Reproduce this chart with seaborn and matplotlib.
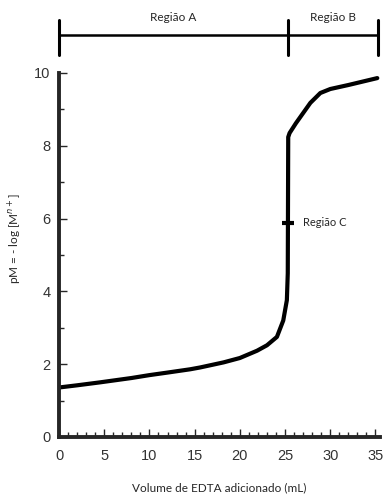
import matplotlib
matplotlib.use("Agg")
import matplotlib.pyplot as plt
import matplotlib.transforms as mtransforms
import seaborn as sns
import pandas as pd
import numpy as np

# Data
vol = [0, 2, 4.5, 8, 10, 12, 14.5, 15.6, 18.2, 20, 21.9, 23, 24.1, 24.8, 25.2, 25.3, 25.35, 25.5, 26.2, 27.0, 27.8, 28.9, 30.0, 32.0, 35.2]
pM = [1.36, 1.42, 1.50, 1.62, 1.70, 1.77, 1.86, 1.91, 2.05, 2.17, 2.37, 2.52, 2.75, 3.2, 3.76, 4.5, 8.24, 8.35, 8.62, 8.9, 9.18, 9.45, 9.56, 9.67, 9.86]
x_ticks = [0, 5, 10, 15, 20, 25, 30, 35]
y_ticks = [0, 2, 4, 6, 8, 10]
region_edges = [0, 25.35, 35.3]
region_labels = ["Região A", "Região B"]
region_c_y = 5.88

df = pd.DataFrame({"vol": vol, "pM": pM})

sns.set_style("ticks")
plt.rcParams['font.family'] = ['Liberation Sans', 'DejaVu Sans']

fig = plt.figure(figsize=(3.87, 5.0), dpi=100)
ax = fig.add_axes([59/387, 63/500, (380-59)/387, (437-73)/500])

sns.lineplot(data=df, x="vol", y="pM", ax=ax, color="black", lw=3.0, sort=False)

ax.set_xlim(0, 35.5)
ax.set_ylim(0, 10)
ax.set_xticks(x_ticks)
ax.set_yticks(y_ticks)
ax.set_xticks(np.arange(0, 36, 1), minor=True)
ax.set_yticks(np.arange(1, 10, 2), minor=True)
ax.tick_params(which="major", direction="in", length=6, width=1, labelsize=10.5,
               labelcolor="#333333", pad=6)
ax.tick_params(axis="x", which="major", pad=9)
ax.tick_params(which="minor", direction="in", length=3.5, width=1)
for s in ["top", "right"]:
    ax.spines[s].set_visible(False)
for s in ["left", "bottom"]:
    ax.spines[s].set_linewidth(2.8)

lab_font = ['Lato', 'DejaVu Sans']
ax.set_xlabel("Volume de EDTA adicionado (mL)", fontsize=8.5, family=lab_font)
ax.xaxis.set_label_coords(0.5, -(482 - 437) / 364)
ax.set_ylabel("pM = - log [M$^{n+}$]", fontsize=8.5, family=lab_font)
ax.yaxis.set_label_coords((24 - 59) / 321, (437 - 238) / 364)

# Region C marker
ax.plot([24.7, 26.0], [region_c_y, region_c_y], color="black", lw=3, solid_capstyle="butt")
ax.text(27.0, region_c_y, "Região C", fontsize=8, family=lab_font, va="center", ha="left")

# Top region bar
trans = mtransforms.blended_transform_factory(ax.transData, ax.transAxes)
ybar = (437 - 35) / 364
ax.plot([region_edges[0], region_edges[-1]], [ybar, ybar], color="black", lw=1.8,
        transform=trans, clip_on=False)
for xe in region_edges:
    ax.plot([xe, xe], [(437 - 55) / 364, (437 - 20) / 364], color="black", lw=2.2,
            transform=trans, clip_on=False)
for i, lab in enumerate(region_labels):
    xc = (region_edges[i] + region_edges[i + 1]) / 2
    ax.text(xc, (437 - 17) / 364, lab, fontsize=8.5, family=lab_font, ha="center",
            va="center", transform=trans)

fig.savefig("out.png", dpi=100)
